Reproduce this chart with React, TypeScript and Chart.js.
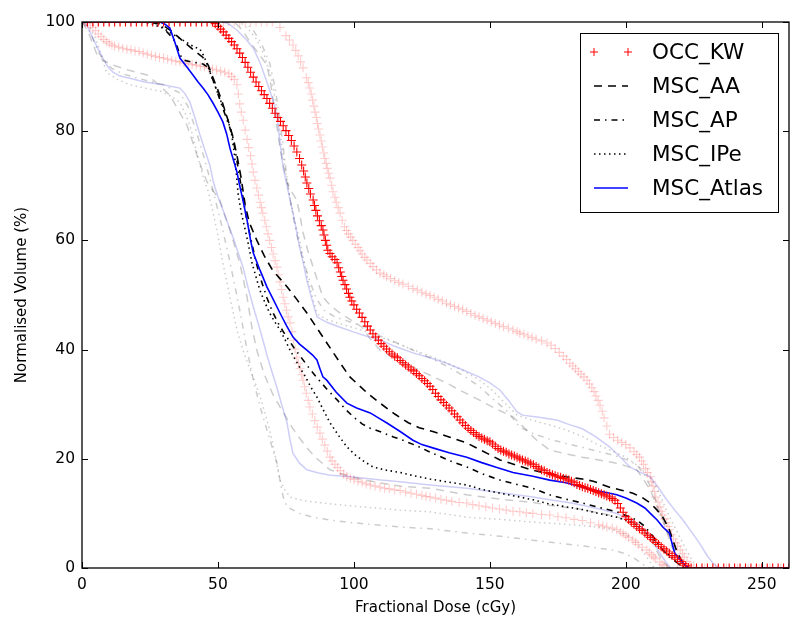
import React, { useEffect, useRef } from 'react';
import { Chart, registerables } from 'chart.js';

Chart.register(...registerables);

const seriesNames = ['OCC_KW', 'MSC_AA', 'MSC_AP', 'MSC_IPe', 'MSC_Atlas'];
const xTicks = [0, 50, 100, 150, 200, 250];
const yTicks = [0, 20, 40, 60, 80, 100];

// [dose (cGy), volume (%)]
const occKwMain = [
  [0, 100], [2, 100], [4, 100], [6, 100], [8, 100], [10, 100], [12, 100], [14, 100], [16, 100], [18, 100],
  [20, 100], [22, 100], [24, 100], [26, 100], [28, 100], [30, 100], [32, 100], [34, 100], [36, 100], [38, 100],
  [40, 100], [42, 100], [44, 100], [46, 100], [48, 100],
  [49, 99.7], [50, 99.2], [51, 98.7], [52, 98.2], [53, 97.6], [54, 97], [55, 96.4], [56, 95.8], [57, 95.1], [58, 94.3],
  [59, 93.5], [60, 92.6], [61, 91.7], [62, 90.8], [63, 89.9], [64, 89], [65, 88.2], [66, 87.4], [67, 86.7], [68, 86],
  [69, 85.1], [70, 84.2], [71, 83.3], [72, 82.5], [73, 81.8], [74, 81], [75, 80.1], [76, 79.2], [77, 78.3], [78, 77.3],
  [79, 76.2], [80, 75], [80.8, 73.8], [81.5, 72.7], [82.1, 71.6], [82.7, 70.5], [83.4, 69.5], [84, 68.5], [85, 67.4], [85.5, 66.4],
  [86, 65.5], [86.6, 64.5], [87.3, 63.6], [88, 62.7], [88.6, 61.9], [89, 61], [89.5, 60], [90, 59.1], [90.4, 58.2], [91.2, 57.6],
  [92, 57], [93, 56.5], [93.8, 55.9], [94.4, 55], [95, 54.2], [95.5, 53.4], [96, 52.7], [96.7, 51.9], [97.3, 51.1], [98, 50.3],
  [98.5, 49.6], [99.2, 48.9], [100, 48.2], [101, 47.4], [102, 46.7], [103, 45.9], [104, 45.1], [105, 44.3], [106, 43.6], [107, 42.9],
  [108, 42.3], [109, 41.7], [110, 41.1], [111, 40.6], [112, 40.1], [113, 39.6], [114, 39.2], [115, 38.8], [116, 38.5], [117, 38],
  [118, 37.6], [119, 37.2], [120, 36.8], [121, 36.4], [122, 36.1], [123, 35.6], [124, 35.2], [125, 34.7], [126, 34.3], [127, 33.8],
  [128, 33.3], [129, 32.7], [130, 32], [131, 31.4], [132, 30.8], [133, 30.3], [134, 29.8], [135, 29.3], [136, 28.8], [137, 28.2],
  [138, 27.7], [139, 27.1], [140, 26.6], [141, 26.1], [142, 25.6], [143, 25.2], [144, 24.8], [145, 24.4], [146, 24.1], [147, 23.8],
  [148, 23.6], [149, 23.3], [150, 23.1], [151, 22.7], [152, 22.3], [153, 21.9], [154, 21.6], [155, 21.4], [156, 21.2], [157, 20.9],
  [158, 20.7], [159, 20.5], [160, 20.3], [161, 20], [162, 19.8], [163, 19.6], [164, 19.4], [165, 19.1], [166, 18.9], [167, 18.6],
  [168, 18.3], [169, 18], [170, 17.8], [171, 17.5], [172, 17.3], [173, 17.1], [174, 16.9], [175, 16.7], [176, 16.6], [177, 16.4],
  [178, 16.3], [179, 16.1], [180, 15.9], [181, 15.6], [182, 15.3], [183, 15.1], [184, 14.9], [185, 14.7], [186, 14.6], [187, 14.4],
  [188, 14.2], [189, 14], [190, 13.8], [191, 13.6], [192, 13.4], [193, 13.2], [194, 13], [195, 12.7], [196, 12.4], [197, 11.8],
  [198, 11], [199, 10.2], [200, 9.4], [201, 8.9], [202, 8.4], [203, 8], [204, 7.6], [205, 7.2], [206, 6.9], [207, 6.4],
  [208, 6], [209, 5.6], [210, 5.2], [211, 4.7], [212, 4.3], [213, 3.9], [214, 3.5], [215, 3.1], [216, 2.7], [217, 2.3],
  [218, 2], [219, 1.6], [220, 1.2], [221, 0.8], [222, 0.4], [223, 0.1],
  [224, 0], [226, 0], [228, 0], [230, 0], [232, 0], [234, 0], [236, 0],
  [238, 0], [240, 0], [242, 0], [244, 0], [246, 0], [248, 0], [250, 0], [252, 0], [254, 0], [256, 0], [258, 0], [260, 0],
];

const occKwUpper = [
  [0, 100], [2, 100], [4, 100], [6, 100], [8, 100], [10, 100], [12, 100], [14, 100], [16, 100], [18, 100],
  [20, 100], [22, 100], [24, 100], [26, 100], [28, 100], [30, 100], [32, 100], [34, 100], [36, 100], [38, 100],
  [40, 100], [42, 100], [44, 100], [46, 100], [48, 100], [50, 100], [52, 100], [54, 100], [56, 100], [58, 100],
  [60, 100], [62, 100], [64, 100], [66, 100], [68, 100], [70, 100],
  [72.8, 99], [75, 97.5], [76.3, 96.7], [77.6, 95.8], [78.6, 94.8], [79.5, 93.8], [80.4, 92.7], [81.3, 91.6], [82.5, 89.8], [83.2, 88.9],
  [83.8, 87.9], [84.3, 86.8], [84.8, 85.7], [85.3, 84.6], [85.7, 83.5], [86.2, 82.5], [86.6, 81.4], [87, 80.4], [87.5, 79.3], [88, 78.2],
  [88.4, 77.1], [88.9, 76], [89.3, 75], [89.8, 74.1], [90.2, 73.2], [90.7, 72.3], [91.2, 71.4], [91.8, 70.1], [92.3, 68.9], [93, 67.9],
  [93.5, 67], [94.2, 66], [94.9, 65], [95.7, 63.7], [96.5, 62.5], [97.3, 61.8], [98, 61.2], [98.8, 60.6], [99.6, 60], [100.5, 59.3],
  [101.5, 58.7], [102.3, 58.1], [103, 57.5], [104, 56.9], [104.8, 56.4], [106, 55.8], [107, 55.2], [108.3, 54.6], [109.6, 54], [111, 53.7],
  [112, 53.4], [113.5, 53], [115, 52.6], [116.5, 52.3], [118, 52], [120, 51.6], [121.7, 51.2], [123.3, 50.9], [125, 50.5], [126.5, 50.2],
  [128, 49.9], [129.5, 49.6], [131, 49.2], [132.5, 48.9], [134, 48.5], [135.5, 48.2], [137, 47.9], [138.5, 47.6], [140, 47.3], [141.5, 47],
  [143, 46.6], [144.5, 46.3], [146, 46], [147.5, 45.7], [149, 45.4], [150.5, 45.1], [152, 44.8], [153.5, 44.5], [155, 44.2], [156.8, 43.9],
  [158.5, 43.6], [160, 43.3], [161, 43], [162.5, 42.8], [164, 42.5], [165.5, 42.2], [167, 41.9], [169, 41.6], [171, 41.2], [172.5, 40.8],
  [174, 40.2], [175.5, 39.5], [177, 38.8], [178.2, 38.2], [179.4, 37.5], [180.5, 37], [181.5, 36.5], [182.5, 36], [183.5, 35.5], [184.6, 35],
  [185.7, 34.4], [186.6, 33.7], [187.5, 33], [188.3, 32.3], [189, 31.5], [189.8, 30.7], [190.5, 29.8], [191.3, 28.7], [192, 27.5], [193, 26],
  [194, 24.5], [195.5, 23.9], [197, 23.4], [198.5, 23], [200, 22.6], [201.5, 22], [203, 21.3], [204, 20.8], [205, 20.3], [205.8, 19.6],
  [206.5, 19], [207.3, 18.2], [208, 17.5], [209, 16.7], [209.5, 15.8], [210, 15], [210.5, 14], [211, 13], [211.8, 12.1], [212.5, 11.2],
  [213, 10.4], [213.5, 9.7], [214.3, 9], [215, 8.3], [215.5, 7.6], [216, 7], [216.8, 6.1], [217.5, 5.3], [218.3, 4.6], [219, 4],
  [220, 3.3], [220.8, 2.6], [221.5, 2], [222.5, 1.2], [223.5, 0.5], [225, 0], [229, 0], [233, 0], [237, 0], [241, 0],
  [245, 0], [249, 0], [253, 0], [257, 0],
];

const occKwLower = [
  [0, 100], [1, 99.9], [2, 99.8], [3, 99.4], [4, 99], [5, 98.4], [6, 97.8], [7, 97.3], [8, 96.8], [9, 96.4],
  [10, 96.1], [11, 95.8], [12, 95.6], [13.5, 95.4], [15, 95.2], [16.5, 95], [18, 94.9], [19.5, 94.7], [21, 94.6], [22.5, 94.3],
  [24, 94.1], [25.5, 93.9], [27, 93.7], [28.5, 93.5], [30, 93.4], [31.5, 93.2], [33, 93], [34.5, 92.8], [36, 92.7], [37.5, 92.5],
  [39, 92.4], [40.5, 92.2], [42, 92.1], [43.5, 91.9], [45, 91.8], [46.5, 91.6], [48, 91.4], [49.5, 91.2], [51, 91], [52.5, 90.8],
  [54, 90.5], [55, 90], [56, 89.5], [57, 88.5], [57.5, 86.8], [58, 85], [58.6, 83.5], [59.3, 82], [60, 80.2], [60.7, 78.5],
  [61.3, 77], [62, 75.5], [62.5, 74], [63, 72.5], [63.6, 71], [64.3, 69.6], [64.9, 68.3], [65.5, 67], [66, 66], [66.5, 65],
  [67.2, 63.7], [67.8, 62.5], [68.4, 61.2], [69, 60], [69.7, 58.7], [70.3, 57.5], [71, 56.3], [71.7, 55.1], [72.2, 53.7], [72.8, 52.4],
  [73.4, 51], [74, 49.6], [74.6, 48.4], [75.2, 47.2], [75.8, 46], [76.5, 44.9], [77.2, 43.3], [77.8, 41.7], [78.4, 40.1], [79, 38.6],
  [79.6, 37.5], [80.2, 36.5], [80.8, 35.4], [81.3, 34.4], [81.9, 33.2], [82.5, 32], [83.2, 30.7], [83.8, 29.5], [84.7, 28.2], [85.6, 27],
  [86.5, 25.8], [87.5, 24.7], [88.4, 23.6], [89.3, 22.5], [90.2, 21.4], [91.2, 20.3], [92, 19.6], [93, 19], [94, 18.4], [95, 17.8],
  [96.2, 17.2], [97.4, 16.7], [98.7, 16.4], [100, 16.2], [101.5, 15.9], [103, 15.7], [104.5, 15.4], [106, 15.2], [107.8, 15], [109.6, 14.8],
  [111.3, 14.6], [113, 14.5], [115, 14.3], [117, 14.2], [119, 13.9], [121, 13.7], [123, 13.5], [125, 13.3], [126.5, 13.1], [128, 13],
  [130, 12.8], [132, 12.6], [134, 12.4], [136, 12.2], [138.7, 12], [141.5, 11.9], [143.7, 11.6], [146, 11.4], [148.5, 11.2], [151, 11],
  [153.5, 10.8], [156, 10.6], [158.5, 10.4], [161, 10.3], [163.4, 10.1], [165.8, 10], [169, 9.8], [172, 9.7], [175, 9.4], [178, 9.2],
  [181, 8.9], [184, 8.7], [187, 8.3], [190, 7.9], [191.5, 7.7], [193, 7.5], [195, 7.3], [196.7, 7], [198, 6.6], [199, 6.3],
  [200, 5.9], [201, 5.6], [202.6, 5.1], [203.5, 4.7], [204.5, 4.3], [206, 3.8], [207.7, 3.3], [208.6, 2.8], [209.5, 2.4], [210.3, 2],
  [211, 1.7], [212.5, 1.1], [213.3, 0.7], [214, 0.4], [215, 0], [219, 0], [223, 0],
];

const atlasMain = [
  [0, 100], [28.7, 100], [30.5, 99.6], [32.3, 98.9], [34, 96.5], [36, 93.4], [38.5, 91.8], [40.8, 90.3], [42.7, 89], [44.5, 87.9],
  [46.3, 86.7], [48, 85.3], [50, 83.5], [51.8, 81.7], [53.2, 79.5], [54.4, 76.9], [55.7, 74.7], [57, 72.5], [58, 70], [59, 67.8],
  [60.7, 63.7], [62, 60], [63, 57.7], [65.5, 54.5], [68, 51.5], [70.5, 49], [72.8, 46.7], [75.2, 44.4], [77.6, 42.3], [80, 41],
  [82.7, 39.9], [84.8, 39], [86.4, 38.1], [87.5, 36.5], [88.6, 35], [90, 34.4], [93.5, 32.2], [97.4, 30.2], [101, 29.3], [106, 28.4],
  [109, 27.5], [112, 26.6], [117, 25], [121.7, 23.4], [125, 22.6], [129, 22], [135, 21.1], [141.5, 20.3], [147, 19.3], [152, 18.5],
  [158.5, 17.5], [165.8, 16.8], [172, 16.1], [178, 15.6], [184, 14.8], [190, 14.1], [196.7, 13.4], [200, 12.8], [204, 11.9], [207, 11],
  [209, 10], [211.5, 8.8], [213.6, 7.5], [216, 6.4], [217, 4.5], [218, 2.7], [219.5, 1.8], [221, 0.9], [222.4, 0.2], [224, 0],
  [260, 0],
];

const atlasUpper = [
  [0, 100], [52, 100], [54.4, 99.5], [57, 98.5], [60, 97], [63, 95.2], [65.5, 92.5], [68, 89], [70, 86], [71.7, 83],
  [72.8, 78], [74, 73.2], [75.4, 70], [76.5, 67.5], [77.6, 65], [78.8, 62], [80, 58.8], [81.4, 55.8], [82.7, 52.7], [84.5, 49.3],
  [86.4, 46], [90, 45], [94.9, 44.1], [100, 43.2], [105, 42.4], [109.6, 41.8], [115, 40.6], [121.7, 39.4], [128, 38.5], [134, 37.5],
  [140, 36.3], [146, 35], [150, 33.9], [153.7, 32.6], [157, 30.6], [160, 28.6], [162, 28], [168, 27.6], [174.6, 27.1], [179, 26.3],
  [184, 25.5], [189, 24], [194, 22.2], [198, 20.3], [201.5, 18.5], [205, 17.6], [209, 16.7], [212, 14.7], [215, 12.5], [218, 10.6],
  [221, 8.8], [224, 6.7], [227, 4.6], [230, 2.2], [232, 0.9], [234, 0], [260, 0],
];

const atlasLower = [
  [0, 100], [1.8, 99.5], [4, 97], [6, 95], [7.7, 93.4], [9.5, 91.8], [11.4, 90.8], [14, 90.1], [17.6, 89.7], [23, 89],
  [29.8, 88.5], [36, 87.9], [38, 86.8], [39.7, 85.3], [41.5, 82.5], [43.4, 79.3], [45.2, 76.5], [47, 73.8], [48.4, 70.5], [50, 68],
  [51.8, 65.6], [53.7, 63], [55.5, 60.6], [57.4, 57.8], [59.2, 55.1], [61, 51.5], [63, 47.8], [64.8, 44.8], [66.5, 41.8], [68, 39],
  [69.5, 36.5], [71.7, 33], [73.5, 29.8], [75.4, 26.6], [76.5, 23.5], [77.6, 21], [80, 19.2], [82.7, 18], [87, 17.4],
  [91.2, 17], [97, 16.8], [103, 16.5], [110, 16.1], [117, 15.8], [128, 15.2], [141.5, 14.6], [154, 13.8], [165.8, 13], [172, 12.5],
  [180, 11.9], [190.4, 10.8], [196.7, 10], [200, 9.2], [204, 8.2], [207, 7], [209, 5.7], [211, 4], [212.5, 2.7], [214, 1.6],
  [215, 0.9], [216.5, 0], [260, 0],
];

const aaMain = [
  [0, 100], [27, 100], [30, 99.3], [33, 98.3], [36, 97], [39, 95.7], [42, 94.5], [44.5, 93.5], [46.5, 92], [48, 90],
  [50, 87.5], [51.8, 85], [53.7, 82], [55.5, 79], [57, 75.5], [58.5, 71.5], [60, 66.5], [61.5, 63.3], [64.3, 60], [67, 57.2],
  [70, 54.6], [72.8, 53], [75.4, 51.5], [79, 49.2], [82.7, 46.7], [87, 43.5], [91, 40.5], [95, 37.5], [98.5, 35], [102, 33.4],
  [105, 32], [109.6, 30.2], [115, 28.2], [120, 26.6], [124, 25.7], [129, 25], [135, 24], [141.5, 22.9], [147, 21.5], [153.7, 19.8],
  [160, 18.8], [165.8, 17.9], [172, 17.2], [178, 16.7], [184, 16.3], [188, 15.9], [194, 14.8], [198, 14.3], [202.6, 13.7], [206, 12.9],
  [209, 11.9], [211.5, 10.6], [213.6, 9.3], [215, 8], [216, 7], [217.5, 4.8], [218.6, 3.3], [220, 1.8], [221, 0.9], [223, 0],
  [260, 0],
];

const aaUpper = [
  [0, 100], [56, 100], [59, 98.5], [61.8, 96.3], [65, 94.2], [68, 92.1], [69.3, 89], [70.2, 86], [71.5, 81.5], [72.8, 77],
  [74, 73.8], [75.4, 70.7], [77, 69], [79, 67.4], [80.2, 64.4], [81.3, 61.4], [83, 58.2], [85, 55.1], [86.8, 52.3], [88.6, 49.6],
  [91.5, 48], [94.9, 46.7], [99, 45.4], [103, 44.1], [106, 42], [109.6, 39.9], [115, 38.4], [121.7, 36.8], [128, 35.3], [134, 33.9],
  [140, 32.3], [146, 30.8], [152, 29.2], [158.5, 27.7], [163, 25.5], [167, 23.5], [172, 21.6], [178, 20.9], [184, 20.3], [190, 19.8],
  [196.7, 19.2], [200, 18.7], [204, 18], [206.5, 16.2], [209, 14.3], [211.3, 11.5], [213.6, 8.8], [215.3, 6.3], [217, 3.8], [219, 2],
  [221, 0.9], [223, 0], [260, 0],
];

const aaLower = [
  [0, 100], [2, 98.5], [4, 96], [5.5, 94], [8, 92.9], [11.4, 92.1], [17, 91.2], [23.9, 90.3], [28, 88.6], [32.3, 86.6],
  [35.5, 83.8], [38.6, 81.1], [40.5, 78.3], [42.3, 75.6], [44, 73.2], [46, 70.7], [48.3, 69], [50.7, 67.4], [52.5, 64.6], [54.4, 61.9],
  [56.2, 58.9], [58, 55.9], [59.4, 52.7], [60.7, 49.6], [62.5, 44], [64.5, 39.5], [67, 35.5], [70, 32], [72.8, 29.5],
  [75.2, 27.5], [77.6, 25.5], [80, 23.8], [82.7, 22], [86, 20.2], [91.2, 18], [97, 17], [103, 16.2], [109.6, 15.6], [117, 15],
  [128, 14.6], [141.5, 13.4], [154, 12.6], [165.8, 12], [172, 11.5], [184, 10.7], [196, 9.5], [201, 8.6], [205, 7.8], [208, 6],
  [210, 4.5], [212, 2.5], [214, 1], [216, 0], [260, 0],
];

const apMain = [
  [0, 100], [25, 100], [28.7, 99.5], [31, 98.3], [33.5, 97], [35, 95.5], [36, 94], [37.5, 93], [40, 92.7], [42.5, 92.5],
  [44.5, 92.3], [46, 91.8], [47, 91], [48.3, 89.2], [49.6, 87.4], [50.7, 85.8], [51.8, 84.2], [53, 82.5], [54.4, 80.6], [55.5, 78.8],
  [56.5, 76], [57.5, 73], [58.5, 70], [59.5, 67], [60.5, 64], [62, 60.5], [64, 56], [66, 52.5], [68, 49.5], [70, 47],
  [72.5, 44.5], [75, 42.5], [78, 40.3], [81, 38.3], [84, 36.3], [87, 34.5], [90, 32.8], [93.8, 30.8], [97, 29], [100, 27.6],
  [103, 26.4], [106, 25.6], [110, 24.9], [114.5, 24], [117, 23.6], [123, 22.4], [129, 21], [135, 19.7], [141.5, 18.5], [147, 17.3],
  [153.7, 16.1], [160, 15.3], [165.8, 14.6], [172, 13.4], [178, 12.6], [184, 11.9], [190, 11.1], [196.7, 10.3], [200, 9.6], [204, 8.8],
  [206.5, 7.8], [209, 6.4], [211.5, 4.8], [213.6, 3.3], [216, 2], [218.6, 1.1], [220.5, 0.2], [222, 0], [260, 0],
];

const apUpper = [
  [0, 100], [60, 100], [63, 98.5], [66, 96], [69, 92.5], [71, 88], [72.5, 83], [74, 77], [75.5, 71], [77, 66],
  [79, 61], [81, 57], [83.5, 53], [86, 49.5], [89, 47.2], [93, 46], [99, 45], [105, 44], [109.6, 42.5], [115, 41.4],
  [121.7, 39.9], [128, 38.5], [134, 37], [140, 35.3], [146, 33.3], [151, 31], [156, 28.9], [161, 25.8], [166, 24.6], [172, 23.6],
  [178, 22.8], [184, 22.1], [190, 21.3], [196, 20.6], [200, 19.9], [204, 18.9], [207, 17], [209.5, 14.5], [212, 11], [214.5, 7.5],
  [217, 4.5], [220, 1.8], [222, 0], [260, 0],
];

const apLower = [
  [0, 100], [2, 99], [4, 97], [6, 94.5], [8, 93], [11, 91.5], [15, 90.5], [22, 89.5], [30, 88.5], [36, 87],
  [39, 84.5], [42, 80], [45, 75], [48, 69.5], [51, 63.5], [54, 57], [56.5, 51], [58.5, 46], [60.5, 40.5], [63, 34.4],
  [65.5, 29.5], [68, 25.3], [70, 22], [71.7, 19.2], [72.8, 16.1], [74, 13], [75.4, 11.2], [80, 10], [85, 9.3], [91, 8.8],
  [97.4, 8.4], [108, 7.9], [117, 7.5], [128, 7.2], [141.5, 6.4], [154, 5.8], [165.8, 5.1], [178, 4.4], [188, 3.8], [196, 3.2],
  [200, 2.6], [203, 1.8], [206, 0.8], [208, 0], [260, 0],
];

const ipeMain = [
  [0, 100], [22, 100], [26, 99.6], [30, 98.8], [34, 97.6], [38, 96.4], [41, 95.5], [43.4, 95], [44.8, 93.8], [46.4, 91.8],
  [48, 89.5], [49.5, 87.5], [50.7, 86], [52.2, 84], [53.7, 82], [55, 79.5], [56, 76], [56.8, 72], [57.4, 68.5], [58.6, 65],
  [60, 62], [61.3, 59], [62.5, 55.9], [64, 53.3], [65.4, 50.9], [67.2, 48.7], [69, 46.7], [71, 45], [72.8, 43.6], [74.7, 41.8],
  [76.5, 39.9], [78.3, 38.3], [80, 36.8], [82.2, 35], [84.3, 33], [86.4, 31.3], [88.8, 28.9], [91.2, 26.6], [94.3, 24.3], [97.4, 22.2],
  [100.5, 20.7], [103.5, 19.6], [107, 18.5], [112, 17.9], [117, 17.5], [122, 16.9], [128, 16.3], [134, 15.8], [141.5, 15.2], [147, 14.4],
  [153.7, 13.7], [160, 13.1], [165.8, 12.5], [172, 11.7], [178, 11.2], [184, 10.7], [190, 10], [196.7, 9.3], [202.6, 8.2], [206, 7.1],
  [209, 5.7], [212, 4.2], [215, 2.7], [218.6, 1.1], [220.5, 0.2], [222, 0], [260, 0],
];

const ipeUpper = [
  [0, 100], [58, 100], [61, 98.8], [64, 97], [67, 94], [69.5, 90], [71, 86], [72.5, 81], [74, 75.5], [75.5, 70.5],
  [77, 66.5], [78.5, 63], [80, 60], [81.5, 56.5], [83, 53], [84.8, 49.5], [86.5, 46.5], [90, 45.5], [95, 44.7], [100, 44],
  [105, 43.2], [109.6, 42.3], [115, 41.3], [121.7, 40], [128, 38.8], [134, 37.6], [140, 36.2], [146, 34.5], [151, 32.5], [156, 30],
  [160, 28], [166, 27], [172, 26.2], [178, 25.3], [184, 24.1], [190, 22.5], [196, 21.2], [200, 20.3], [205, 18.5], [209, 16.5],
  [212, 14], [215, 10.5], [218, 7.5], [221, 4.5], [223.5, 2.2], [226, 0], [260, 0],
];

const ipeLower = [
  [0, 100], [3, 99], [5, 97], [7, 94], [9, 90.8], [13, 89.5], [17.6, 88.5], [24, 87.8], [29.8, 87.2], [33, 86.3],
  [36, 85.3], [38, 83.2], [39.7, 81.1], [41.5, 77.5], [43.4, 73.8], [44.7, 71.3], [46.3, 69.2], [48, 65.5], [49.6, 61.9], [50.7, 58.9],
  [51.8, 55.9], [53.1, 52.8], [54.4, 49.6], [55.7, 46.6], [57, 43.6], [58.8, 40.5], [60.7, 37.8], [62.5, 35.5], [64, 33.5], [65.4, 31.5],
  [67.2, 28.5], [69, 25.3], [71, 20.7], [72.8, 16.1], [74.6, 14.3], [76.5, 13], [80, 12.5], [85, 12.1], [94, 11.6], [103, 11.2],
  [117, 10.6], [128, 10.3], [141.5, 9.3], [154, 8.9], [165.8, 8.4], [178, 8], [190, 7.5], [197, 6.8], [202, 5.5], [205, 4],
  [207, 2.5], [209, 1], [210.5, 0], [260, 0],
];

const FONT = '"DejaVu Sans", sans-serif';
const RED = '#ff0000';
const BLUE = '#0000ff';
const BLACK = '#000000';
const FAINT_RED = 'rgba(255,0,0,0.2)';
const FAINT_BLUE = 'rgba(30,30,220,0.22)';
const FAINT_GRAY = 'rgba(0,0,0,0.2)';
const DASH_AA = [8, 6];
const DASH_AP = [6, 5, 1.5, 5];
const DASH_IPE = [1.5, 3.5];

const toXY = (pts: number[][]) => pts.map(([x, y]) => ({ x, y }));

function crossSet(label: string, pts: number[][], color: string, order: number) {
  return {
    label,
    data: toXY(pts),
    showLine: false,
    pointStyle: 'cross',
    pointRadius: 4.5,
    pointHoverRadius: 4.5,
    pointBorderWidth: 1.1,
    borderColor: color,
    backgroundColor: color,
    order,
  };
}

function lineSet(label: string, pts: number[][], color: string, dash: number[], width: number, order: number) {
  return {
    label,
    data: toXY(pts),
    showLine: true,
    pointRadius: 0,
    pointHoverRadius: 0,
    borderColor: color,
    backgroundColor: color,
    borderWidth: width,
    borderDash: dash,
    tension: 0,
    fill: false,
    order,
  };
}

const legendItems = [
  { kind: 'cross', color: RED, dash: [] as number[] },
  { kind: 'line', color: BLACK, dash: DASH_AA },
  { kind: 'line', color: BLACK, dash: DASH_AP },
  { kind: 'line', color: BLACK, dash: DASH_IPE },
  { kind: 'line', color: BLUE, dash: [] as number[] },
];

const framePlugin = {
  id: 'frameTicks',
  afterDatasetsDraw(chart: any) {
    const { ctx, chartArea: a, scales } = chart;
    ctx.save();
    ctx.strokeStyle = '#000';
    ctx.lineWidth = 1;
    ctx.beginPath();
    const L = 6;
    for (const v of xTicks) {
      const px = Math.round(scales.x.getPixelForValue(v)) + 0.5;
      ctx.moveTo(px, a.bottom);
      ctx.lineTo(px, a.bottom - L);
      ctx.moveTo(px, a.top);
      ctx.lineTo(px, a.top + L);
    }
    for (const v of yTicks) {
      const py = Math.round(scales.y.getPixelForValue(v)) + 0.5;
      ctx.moveTo(a.left, py);
      ctx.lineTo(a.left + L, py);
      ctx.moveTo(a.right, py);
      ctx.lineTo(a.right - L, py);
    }
    ctx.stroke();
    ctx.lineWidth = 1.3;
    ctx.strokeRect(a.left, a.top, a.right - a.left, a.bottom - a.top);
    ctx.restore();
  },
};

const legendPlugin = {
  id: 'insideLegend',
  afterDraw(chart: any) {
    const { ctx } = chart;
    const box = { left: 580, top: 33, right: 778, bottom: 212 };
    ctx.save();
    ctx.fillStyle = '#ffffff';
    ctx.fillRect(box.left, box.top, box.right - box.left, box.bottom - box.top);
    ctx.strokeStyle = '#000';
    ctx.lineWidth = 1;
    ctx.strokeRect(box.left + 0.5, box.top + 0.5, box.right - box.left, box.bottom - box.top);
    ctx.font = '21.5px ' + FONT;
    ctx.textBaseline = 'middle';
    ctx.textAlign = 'left';
    legendItems.forEach((it, i) => {
      const y = 52 + i * 34;
      const x0 = 594;
      const x1 = 628;
      if (it.kind === 'cross') {
        ctx.strokeStyle = it.color;
        ctx.lineWidth = 1;
        ctx.setLineDash([]);
        for (const cx of [x0, x1]) {
          ctx.beginPath();
          ctx.moveTo(cx - 4, y);
          ctx.lineTo(cx + 4, y);
          ctx.moveTo(cx, y - 4);
          ctx.lineTo(cx, y + 4);
          ctx.stroke();
        }
      } else {
        ctx.strokeStyle = it.color;
        ctx.lineWidth = 1.5;
        ctx.setLineDash(it.dash);
        ctx.beginPath();
        ctx.moveTo(x0, y);
        ctx.lineTo(x1, y);
        ctx.stroke();
        ctx.setLineDash([]);
      }
      ctx.fillStyle = '#000';
      ctx.fillText(seriesNames[i], 652, y + 1);
    });
    ctx.restore();
  },
};

export default function App() {
  const ref = useRef<HTMLCanvasElement | null>(null);

  useEffect(() => {
    if (!ref.current) return;
    const datasets: any[] = [
      crossSet(seriesNames[0], occKwMain, RED, 0),
      lineSet(seriesNames[4], atlasMain, BLUE, [], 1.6, 1),
      lineSet(seriesNames[1], aaMain, BLACK, DASH_AA, 1.6, 2),
      lineSet(seriesNames[2], apMain, BLACK, DASH_AP, 1.6, 3),
      lineSet(seriesNames[3], ipeMain, BLACK, DASH_IPE, 1.6, 4),
      crossSet(seriesNames[0] + ' upper', occKwUpper, FAINT_RED, 10),
      crossSet(seriesNames[0] + ' lower', occKwLower, FAINT_RED, 10),
      lineSet(seriesNames[4] + ' upper', atlasUpper, FAINT_BLUE, [], 1.5, 11),
      lineSet(seriesNames[4] + ' lower', atlasLower, FAINT_BLUE, [], 1.5, 11),
      lineSet(seriesNames[1] + ' upper', aaUpper, FAINT_GRAY, DASH_AA, 1.5, 12),
      lineSet(seriesNames[1] + ' lower', aaLower, FAINT_GRAY, DASH_AA, 1.5, 12),
      lineSet(seriesNames[2] + ' upper', apUpper, FAINT_GRAY, DASH_AP, 1.5, 12),
      lineSet(seriesNames[2] + ' lower', apLower, FAINT_GRAY, DASH_AP, 1.5, 12),
      lineSet(seriesNames[3] + ' upper', ipeUpper, FAINT_GRAY, DASH_IPE, 1.5, 12),
      lineSet(seriesNames[3] + ' lower', ipeLower, FAINT_GRAY, DASH_IPE, 1.5, 12),
    ];

    const chart = new Chart(ref.current, {
      type: 'line',
      data: { datasets },
      options: {
        animation: false,
        responsive: true,
        maintainAspectRatio: false,
        parsing: false,
        normalized: true,
        layout: { padding: { top: 22, right: 11, left: 0, bottom: 0 } },
        plugins: {
          legend: { display: false },
          tooltip: { enabled: false },
        },
        events: [],
        scales: {
          x: {
            type: 'linear',
            min: 0,
            max: 260,
            afterBuildTicks: (s: any) => {
              s.ticks = xTicks.map((v) => ({ value: v }));
            },
            afterFit: (s: any) => {
              s.height = 63;
            },
            grid: { display: false, drawTicks: false },
            border: { display: false },
            ticks: {
              color: '#000',
              font: { family: FONT, size: 15.5 },
              padding: 8,
              maxRotation: 0,
              autoSkip: false,
            },
            title: {
              display: true,
              text: 'Fractional Dose (cGy)',
              color: '#000',
              font: { family: FONT, size: 15 },
              padding: { top: 4, bottom: 14 },
            },
          },
          y: {
            type: 'linear',
            min: 0,
            max: 100,
            afterBuildTicks: (s: any) => {
              s.ticks = yTicks.map((v) => ({ value: v }));
            },
            afterFit: (s: any) => {
              s.width = 82;
            },
            grid: { display: false, drawTicks: false },
            border: { display: false },
            ticks: {
              color: '#000',
              font: { family: FONT, size: 15.5 },
              padding: 7,
              autoSkip: false,
            },
            title: {
              display: true,
              text: 'Normalised Volume (%)',
              color: '#000',
              font: { family: FONT, size: 15 },
              padding: { top: 13, bottom: 4 },
            },
          },
        },
      } as any,
      plugins: [framePlugin, legendPlugin],
    });

    return () => chart.destroy();
  }, []);

  return (
    <div style={{ position: 'fixed', left: 0, top: 0, width: 800, height: 631, background: '#fff' }}>
      <canvas ref={ref} />
    </div>
  );
}
